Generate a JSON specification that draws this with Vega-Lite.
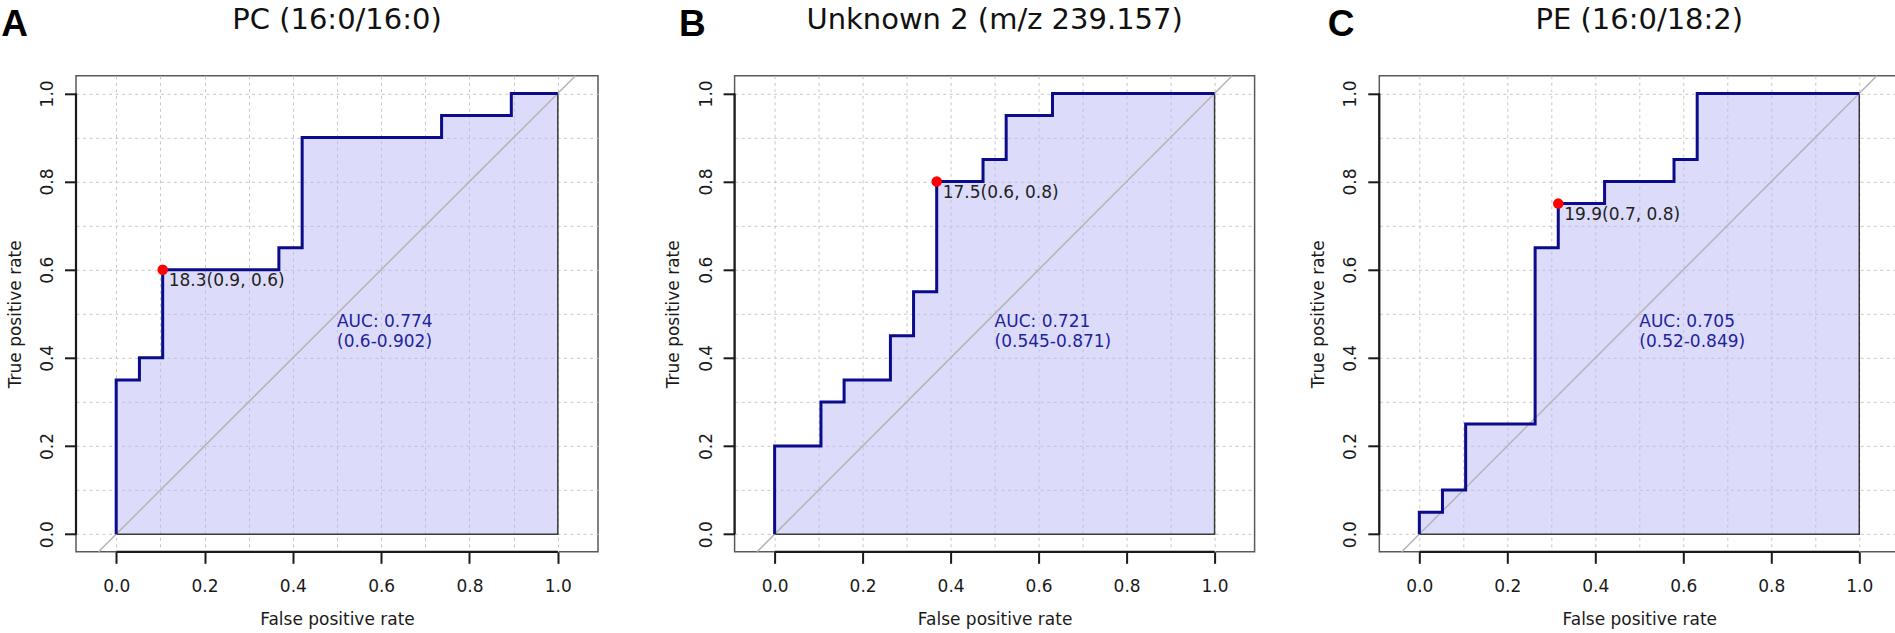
{
  "$schema": "https://vega.github.io/schema/vega-lite/v6.json",
  "padding": {"left": 0, "top": 4.8, "right": 0, "bottom": 0},
  "background": "white",
  "datasets": {
    "roc": [
      {"panel": "A", "i": 1, "fpr": 0, "tpr": 0},
      {"panel": "A", "i": 2, "fpr": 0, "tpr": 0.35},
      {"panel": "A", "i": 3, "fpr": 0.0526, "tpr": 0.35},
      {"panel": "A", "i": 4, "fpr": 0.0526, "tpr": 0.4},
      {"panel": "A", "i": 5, "fpr": 0.1053, "tpr": 0.4},
      {"panel": "A", "i": 6, "fpr": 0.1053, "tpr": 0.6},
      {"panel": "A", "i": 7, "fpr": 0.3684, "tpr": 0.6},
      {"panel": "A", "i": 8, "fpr": 0.3684, "tpr": 0.65},
      {"panel": "A", "i": 9, "fpr": 0.4211, "tpr": 0.65},
      {"panel": "A", "i": 10, "fpr": 0.4211, "tpr": 0.9},
      {"panel": "A", "i": 11, "fpr": 0.7368, "tpr": 0.9},
      {"panel": "A", "i": 12, "fpr": 0.7368, "tpr": 0.95},
      {"panel": "A", "i": 13, "fpr": 0.8947, "tpr": 0.95},
      {"panel": "A", "i": 14, "fpr": 0.8947, "tpr": 1},
      {"panel": "A", "i": 15, "fpr": 1, "tpr": 1},
      {"panel": "B", "i": 1, "fpr": 0, "tpr": 0},
      {"panel": "B", "i": 2, "fpr": 0, "tpr": 0.2},
      {"panel": "B", "i": 3, "fpr": 0.1053, "tpr": 0.2},
      {"panel": "B", "i": 4, "fpr": 0.1053, "tpr": 0.3},
      {"panel": "B", "i": 5, "fpr": 0.1579, "tpr": 0.3},
      {"panel": "B", "i": 6, "fpr": 0.1579, "tpr": 0.35},
      {"panel": "B", "i": 7, "fpr": 0.2632, "tpr": 0.35},
      {"panel": "B", "i": 8, "fpr": 0.2632, "tpr": 0.45},
      {"panel": "B", "i": 9, "fpr": 0.3158, "tpr": 0.45},
      {"panel": "B", "i": 10, "fpr": 0.3158, "tpr": 0.55},
      {"panel": "B", "i": 11, "fpr": 0.3684, "tpr": 0.55},
      {"panel": "B", "i": 12, "fpr": 0.3684, "tpr": 0.8},
      {"panel": "B", "i": 13, "fpr": 0.4737, "tpr": 0.8},
      {"panel": "B", "i": 14, "fpr": 0.4737, "tpr": 0.85},
      {"panel": "B", "i": 15, "fpr": 0.5263, "tpr": 0.85},
      {"panel": "B", "i": 16, "fpr": 0.5263, "tpr": 0.95},
      {"panel": "B", "i": 17, "fpr": 0.6316, "tpr": 0.95},
      {"panel": "B", "i": 18, "fpr": 0.6316, "tpr": 1},
      {"panel": "B", "i": 19, "fpr": 1, "tpr": 1},
      {"panel": "C", "i": 1, "fpr": 0, "tpr": 0},
      {"panel": "C", "i": 2, "fpr": 0, "tpr": 0.05},
      {"panel": "C", "i": 3, "fpr": 0.0526, "tpr": 0.05},
      {"panel": "C", "i": 4, "fpr": 0.0526, "tpr": 0.1},
      {"panel": "C", "i": 5, "fpr": 0.1053, "tpr": 0.1},
      {"panel": "C", "i": 6, "fpr": 0.1053, "tpr": 0.25},
      {"panel": "C", "i": 7, "fpr": 0.2632, "tpr": 0.25},
      {"panel": "C", "i": 8, "fpr": 0.2632, "tpr": 0.65},
      {"panel": "C", "i": 9, "fpr": 0.3158, "tpr": 0.65},
      {"panel": "C", "i": 10, "fpr": 0.3158, "tpr": 0.75},
      {"panel": "C", "i": 11, "fpr": 0.4211, "tpr": 0.75},
      {"panel": "C", "i": 12, "fpr": 0.4211, "tpr": 0.8},
      {"panel": "C", "i": 13, "fpr": 0.5789, "tpr": 0.8},
      {"panel": "C", "i": 14, "fpr": 0.5789, "tpr": 0.85},
      {"panel": "C", "i": 15, "fpr": 0.6316, "tpr": 0.85},
      {"panel": "C", "i": 16, "fpr": 0.6316, "tpr": 1},
      {"panel": "C", "i": 17, "fpr": 1, "tpr": 1}
    ],
    "info": [
      {"panel": "A", "letter": "A", "title": "PC (16:0/16:0)", "auc": "AUC: 0.774\n(0.6-0.902)", "thr": "18.3(0.9, 0.6)", "tx": 0.1053, "ty": 0.6},
      {"panel": "B", "letter": "B", "title": "Unknown 2 (m/z 239.157)", "auc": "AUC: 0.721\n(0.545-0.871)", "thr": "17.5(0.6, 0.8)", "tx": 0.3684, "ty": 0.8},
      {"panel": "C", "letter": "C", "title": "PE (16:0/18:2)", "auc": "AUC: 0.705\n(0.52-0.849)", "thr": "19.9(0.7, 0.8)", "tx": 0.3158, "ty": 0.75}
    ]
  },
  "config": {
    "view": {"stroke": "#5a5a5a", "strokeWidth": 1.5},
    "axis": {
      "domain": false, "grid": true, "gridColor": "#c8c8c8", "gridDash": [3, 3.5], "gridWidth": 1,
      "tickColor": "#1a1a1a", "tickWidth": 2, "tickSize": 11.5,
      "labelFont": "DejaVu Sans", "labelFontSize": 17, "labelColor": "#1a1a1a",
      "titleFont": "DejaVu Sans", "titleFontSize": 17, "titleFontWeight": "normal", "titleColor": "#1a1a1a",
      "labelFlush": false, "labelOverlap": false, "labelBound": false, "minExtent": 0, "maxExtent": 1000
    },
    "axisX": {"labelPadding": 15, "titlePadding": 17},
    "axisY": {"labelAngle": -90, "labelAlign": "center", "labelBaseline": "alphabetic", "labelPadding": 12, "titleBaseline": "alphabetic", "titlePadding": 18.4}
  },
  "hconcat": [
    {
      "spacing": 64.6,
      "hconcat": [
        {
          "width": 522, "height": 476,
          "layer": [
            {"data": {"name": "roc"}, "transform": [{"filter": "datum.panel === 'A'"}],
             "mark": {"type": "area", "fill": "#b9b9f5", "fillOpacity": 0.5, "stroke": "#3a3a3a", "strokeWidth": 1.5},
             "encoding": {
               "x": {"field": "fpr", "type": "quantitative", "title": "False positive rate", "scale": {"domain": [-0.091, 1.091], "nice": false, "zero": false},
                     "axis": {"values": [0, 0.1, 0.2, 0.3, 0.4, 0.5, 0.6, 0.7, 0.8, 0.9, 1],
                              "labelExpr": "round(datum.value*10)%2===0 ? format(datum.value,'.1f') : ''",
                              "tickOpacity": {"condition": {"test": "round(datum.value*10)%2 !== 0", "value": 0}, "value": 1}}},
               "y": {"field": "tpr", "type": "quantitative", "title": "True positive rate", "stack": null, "scale": {"domain": [-0.04, 1.04], "nice": false, "zero": false},
                     "axis": {"values": [0, 0.1, 0.2, 0.3, 0.4, 0.5, 0.6, 0.7, 0.8, 0.9, 1],
                              "labelExpr": "round(datum.value*10)%2===0 ? format(datum.value,'.1f') : ''",
                              "tickOpacity": {"condition": {"test": "round(datum.value*10)%2 !== 0", "value": 0}, "value": 1}}},
               "y2": {"datum": 0}
             }},
            {"data": {"name": "info"}, "transform": [{"filter": "datum.panel === 'A'"}],
             "mark": {"type": "rule", "color": "#b4b4b4", "strokeWidth": 1.5},
             "encoding": {"x": {"datum": -0.04, "type": "quantitative", "title": "False positive rate"}, "y": {"datum": -0.04, "type": "quantitative", "title": "True positive rate"}, "x2": {"datum": 1.04}, "y2": {"datum": 1.04}}},
            {"data": {"name": "info"}, "transform": [{"filter": "datum.panel === 'A'"}],
             "mark": {"type": "rule", "color": "#1a1a1a", "strokeWidth": 2.2},
             "encoding": {"x": {"datum": 0, "type": "quantitative", "title": "False positive rate"}, "x2": {"datum": 1}, "y": {"datum": -0.04, "type": "quantitative", "title": "True positive rate"}}},
            {"data": {"name": "info"}, "transform": [{"filter": "datum.panel === 'A'"}],
             "mark": {"type": "rule", "color": "#1a1a1a", "strokeWidth": 2.2},
             "encoding": {"y": {"datum": 0, "type": "quantitative", "title": "True positive rate"}, "y2": {"datum": 1}, "x": {"datum": -0.091, "type": "quantitative", "title": "False positive rate"}}},
            {"data": {"name": "roc"}, "transform": [{"filter": "datum.panel === 'A'"}],
             "mark": {"type": "line", "color": "#0b0b8c", "strokeWidth": 3},
             "encoding": {"x": {"field": "fpr", "type": "quantitative", "title": "False positive rate"}, "y": {"field": "tpr", "type": "quantitative", "title": "True positive rate"}, "order": {"field": "i", "type": "quantitative"}}},
            {"data": {"name": "info"}, "transform": [{"filter": "datum.panel === 'A'"}],
             "mark": {"type": "circle", "color": "#ff0000", "size": 110, "opacity": 1},
             "encoding": {"x": {"field": "tx", "type": "quantitative", "title": "False positive rate"}, "y": {"field": "ty", "type": "quantitative", "title": "True positive rate"}}},
            {"data": {"name": "info"}, "transform": [{"filter": "datum.panel === 'A'"}],
             "mark": {"type": "text", "align": "left", "baseline": "top", "dx": 6, "dy": 3, "font": "DejaVu Sans", "fontSize": 17, "color": "#222222"},
             "encoding": {"x": {"field": "tx", "type": "quantitative", "title": "False positive rate"}, "y": {"field": "ty", "type": "quantitative", "title": "True positive rate"}, "text": {"field": "thr"}}},
            {"data": {"name": "info"}, "transform": [{"filter": "datum.panel === 'A'"}],
             "mark": {"type": "text", "align": "left", "baseline": "top", "lineBreak": "\n", "lineHeight": 20, "font": "DejaVu Sans", "fontSize": 17, "color": "#23239c"},
             "encoding": {"x": {"datum": 0.5, "type": "quantitative", "title": "False positive rate"}, "y": {"datum": 0.5, "type": "quantitative", "title": "True positive rate"}, "text": {"field": "auc"}}},
            {"data": {"name": "info"}, "transform": [{"filter": "datum.panel === 'A'"}],
             "mark": {"type": "text", "align": "left", "baseline": "alphabetic", "font": "Liberation Sans", "fontSize": 37, "fontWeight": "bold", "color": "#000000"},
             "encoding": {"x": {"datum": -0.26, "type": "quantitative", "title": "False positive rate"}, "y": {"datum": 1.1296, "type": "quantitative", "title": "True positive rate"}, "text": {"field": "letter"}}},
            {"data": {"name": "info"}, "transform": [{"filter": "datum.panel === 'A'"}],
             "mark": {"type": "text", "align": "center", "baseline": "alphabetic", "font": "DejaVu Sans", "fontSize": 29, "color": "#111111"},
             "encoding": {"x": {"datum": 0.5, "type": "quantitative", "title": "False positive rate"}, "y": {"datum": 1.1455, "type": "quantitative", "title": "True positive rate"}, "text": {"field": "title"}}}
          ]
        },
        {
          "width": 520, "height": 476,
          "layer": [
            {"data": {"name": "roc"}, "transform": [{"filter": "datum.panel === 'B'"}],
             "mark": {"type": "area", "fill": "#b9b9f5", "fillOpacity": 0.5, "stroke": "#3a3a3a", "strokeWidth": 1.5},
             "encoding": {
               "x": {"field": "fpr", "type": "quantitative", "title": "False positive rate", "scale": {"domain": [-0.091, 1.091], "nice": false, "zero": false},
                     "axis": {"values": [0, 0.1, 0.2, 0.3, 0.4, 0.5, 0.6, 0.7, 0.8, 0.9, 1],
                              "labelExpr": "round(datum.value*10)%2===0 ? format(datum.value,'.1f') : ''",
                              "tickOpacity": {"condition": {"test": "round(datum.value*10)%2 !== 0", "value": 0}, "value": 1}}},
               "y": {"field": "tpr", "type": "quantitative", "title": "True positive rate", "stack": null, "scale": {"domain": [-0.04, 1.04], "nice": false, "zero": false},
                     "axis": {"values": [0, 0.1, 0.2, 0.3, 0.4, 0.5, 0.6, 0.7, 0.8, 0.9, 1],
                              "labelExpr": "round(datum.value*10)%2===0 ? format(datum.value,'.1f') : ''",
                              "tickOpacity": {"condition": {"test": "round(datum.value*10)%2 !== 0", "value": 0}, "value": 1}}},
               "y2": {"datum": 0}
             }},
            {"data": {"name": "info"}, "transform": [{"filter": "datum.panel === 'B'"}],
             "mark": {"type": "rule", "color": "#b4b4b4", "strokeWidth": 1.5},
             "encoding": {"x": {"datum": -0.04, "type": "quantitative", "title": "False positive rate"}, "y": {"datum": -0.04, "type": "quantitative", "title": "True positive rate"}, "x2": {"datum": 1.04}, "y2": {"datum": 1.04}}},
            {"data": {"name": "info"}, "transform": [{"filter": "datum.panel === 'B'"}],
             "mark": {"type": "rule", "color": "#1a1a1a", "strokeWidth": 2.2},
             "encoding": {"x": {"datum": 0, "type": "quantitative", "title": "False positive rate"}, "x2": {"datum": 1}, "y": {"datum": -0.04, "type": "quantitative", "title": "True positive rate"}}},
            {"data": {"name": "info"}, "transform": [{"filter": "datum.panel === 'B'"}],
             "mark": {"type": "rule", "color": "#1a1a1a", "strokeWidth": 2.2},
             "encoding": {"y": {"datum": 0, "type": "quantitative", "title": "True positive rate"}, "y2": {"datum": 1}, "x": {"datum": -0.091, "type": "quantitative", "title": "False positive rate"}}},
            {"data": {"name": "roc"}, "transform": [{"filter": "datum.panel === 'B'"}],
             "mark": {"type": "line", "color": "#0b0b8c", "strokeWidth": 3},
             "encoding": {"x": {"field": "fpr", "type": "quantitative", "title": "False positive rate"}, "y": {"field": "tpr", "type": "quantitative", "title": "True positive rate"}, "order": {"field": "i", "type": "quantitative"}}},
            {"data": {"name": "info"}, "transform": [{"filter": "datum.panel === 'B'"}],
             "mark": {"type": "circle", "color": "#ff0000", "size": 110, "opacity": 1},
             "encoding": {"x": {"field": "tx", "type": "quantitative", "title": "False positive rate"}, "y": {"field": "ty", "type": "quantitative", "title": "True positive rate"}}},
            {"data": {"name": "info"}, "transform": [{"filter": "datum.panel === 'B'"}],
             "mark": {"type": "text", "align": "left", "baseline": "top", "dx": 6, "dy": 3, "font": "DejaVu Sans", "fontSize": 17, "color": "#222222"},
             "encoding": {"x": {"field": "tx", "type": "quantitative", "title": "False positive rate"}, "y": {"field": "ty", "type": "quantitative", "title": "True positive rate"}, "text": {"field": "thr"}}},
            {"data": {"name": "info"}, "transform": [{"filter": "datum.panel === 'B'"}],
             "mark": {"type": "text", "align": "left", "baseline": "top", "lineBreak": "\n", "lineHeight": 20, "font": "DejaVu Sans", "fontSize": 17, "color": "#23239c"},
             "encoding": {"x": {"datum": 0.5, "type": "quantitative", "title": "False positive rate"}, "y": {"datum": 0.5, "type": "quantitative", "title": "True positive rate"}, "text": {"field": "auc"}}},
            {"data": {"name": "info"}, "transform": [{"filter": "datum.panel === 'B'"}],
             "mark": {"type": "text", "align": "left", "baseline": "alphabetic", "font": "Liberation Sans", "fontSize": 37, "fontWeight": "bold", "color": "#000000"},
             "encoding": {"x": {"datum": -0.2175, "type": "quantitative", "title": "False positive rate"}, "y": {"datum": 1.1296, "type": "quantitative", "title": "True positive rate"}, "text": {"field": "letter"}}},
            {"data": {"name": "info"}, "transform": [{"filter": "datum.panel === 'B'"}],
             "mark": {"type": "text", "align": "center", "baseline": "alphabetic", "font": "DejaVu Sans", "fontSize": 29, "color": "#111111"},
             "encoding": {"x": {"datum": 0.5, "type": "quantitative", "title": "False positive rate"}, "y": {"datum": 1.1455, "type": "quantitative", "title": "True positive rate"}, "text": {"field": "title"}}}
          ]
        }
      ]
    },
    {
      "width": 520, "height": 476,
      "layer": [
        {"data": {"name": "roc"}, "transform": [{"filter": "datum.panel === 'C'"}],
         "mark": {"type": "area", "fill": "#b9b9f5", "fillOpacity": 0.5, "stroke": "#3a3a3a", "strokeWidth": 1.5},
         "encoding": {
           "x": {"field": "fpr", "type": "quantitative", "title": "False positive rate", "scale": {"domain": [-0.091, 1.091], "nice": false, "zero": false},
                 "axis": {"values": [0, 0.1, 0.2, 0.3, 0.4, 0.5, 0.6, 0.7, 0.8, 0.9, 1],
                          "labelExpr": "round(datum.value*10)%2===0 ? format(datum.value,'.1f') : ''",
                          "tickOpacity": {"condition": {"test": "round(datum.value*10)%2 !== 0", "value": 0}, "value": 1}}},
           "y": {"field": "tpr", "type": "quantitative", "title": "True positive rate", "stack": null, "scale": {"domain": [-0.04, 1.04], "nice": false, "zero": false},
                 "axis": {"values": [0, 0.1, 0.2, 0.3, 0.4, 0.5, 0.6, 0.7, 0.8, 0.9, 1],
                          "labelExpr": "round(datum.value*10)%2===0 ? format(datum.value,'.1f') : ''",
                          "tickOpacity": {"condition": {"test": "round(datum.value*10)%2 !== 0", "value": 0}, "value": 1}}},
           "y2": {"datum": 0}
         }},
        {"data": {"name": "info"}, "transform": [{"filter": "datum.panel === 'C'"}],
         "mark": {"type": "rule", "color": "#b4b4b4", "strokeWidth": 1.5},
         "encoding": {"x": {"datum": -0.04, "type": "quantitative", "title": "False positive rate"}, "y": {"datum": -0.04, "type": "quantitative", "title": "True positive rate"}, "x2": {"datum": 1.04}, "y2": {"datum": 1.04}}},
        {"data": {"name": "info"}, "transform": [{"filter": "datum.panel === 'C'"}],
         "mark": {"type": "rule", "color": "#1a1a1a", "strokeWidth": 2.2},
         "encoding": {"x": {"datum": 0, "type": "quantitative", "title": "False positive rate"}, "x2": {"datum": 1}, "y": {"datum": -0.04, "type": "quantitative", "title": "True positive rate"}}},
        {"data": {"name": "info"}, "transform": [{"filter": "datum.panel === 'C'"}],
         "mark": {"type": "rule", "color": "#1a1a1a", "strokeWidth": 2.2},
         "encoding": {"y": {"datum": 0, "type": "quantitative", "title": "True positive rate"}, "y2": {"datum": 1}, "x": {"datum": -0.091, "type": "quantitative", "title": "False positive rate"}}},
        {"data": {"name": "roc"}, "transform": [{"filter": "datum.panel === 'C'"}],
         "mark": {"type": "line", "color": "#0b0b8c", "strokeWidth": 3},
         "encoding": {"x": {"field": "fpr", "type": "quantitative", "title": "False positive rate"}, "y": {"field": "tpr", "type": "quantitative", "title": "True positive rate"}, "order": {"field": "i", "type": "quantitative"}}},
        {"data": {"name": "info"}, "transform": [{"filter": "datum.panel === 'C'"}],
         "mark": {"type": "circle", "color": "#ff0000", "size": 110, "opacity": 1},
         "encoding": {"x": {"field": "tx", "type": "quantitative", "title": "False positive rate"}, "y": {"field": "ty", "type": "quantitative", "title": "True positive rate"}}},
        {"data": {"name": "info"}, "transform": [{"filter": "datum.panel === 'C'"}],
         "mark": {"type": "text", "align": "left", "baseline": "top", "dx": 6, "dy": 3, "font": "DejaVu Sans", "fontSize": 17, "color": "#222222"},
         "encoding": {"x": {"field": "tx", "type": "quantitative", "title": "False positive rate"}, "y": {"field": "ty", "type": "quantitative", "title": "True positive rate"}, "text": {"field": "thr"}}},
        {"data": {"name": "info"}, "transform": [{"filter": "datum.panel === 'C'"}],
         "mark": {"type": "text", "align": "left", "baseline": "top", "lineBreak": "\n", "lineHeight": 20, "font": "DejaVu Sans", "fontSize": 17, "color": "#23239c"},
         "encoding": {"x": {"datum": 0.5, "type": "quantitative", "title": "False positive rate"}, "y": {"datum": 0.5, "type": "quantitative", "title": "True positive rate"}, "text": {"field": "auc"}}},
        {"data": {"name": "info"}, "transform": [{"filter": "datum.panel === 'C'"}],
         "mark": {"type": "text", "align": "left", "baseline": "alphabetic", "font": "Liberation Sans", "fontSize": 37, "fontWeight": "bold", "color": "#000000"},
         "encoding": {"x": {"datum": -0.208, "type": "quantitative", "title": "False positive rate"}, "y": {"datum": 1.1296, "type": "quantitative", "title": "True positive rate"}, "text": {"field": "letter"}}},
        {"data": {"name": "info"}, "transform": [{"filter": "datum.panel === 'C'"}],
         "mark": {"type": "text", "align": "center", "baseline": "alphabetic", "font": "DejaVu Sans", "fontSize": 29, "color": "#111111"},
         "encoding": {"x": {"datum": 0.5, "type": "quantitative", "title": "False positive rate"}, "y": {"datum": 1.1455, "type": "quantitative", "title": "True positive rate"}, "text": {"field": "title"}}}
      ]
    }
  ],
  "spacing": 52.3
}
